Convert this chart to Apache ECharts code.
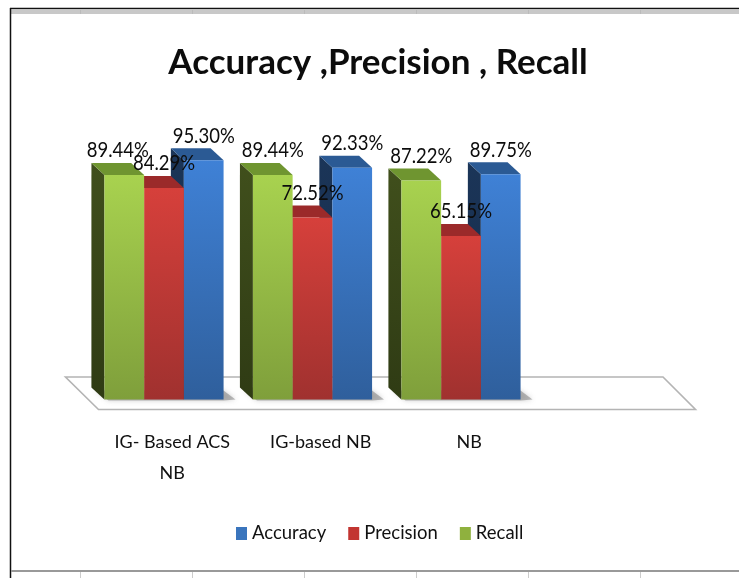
<!DOCTYPE html>
<html>
<head>
<meta charset="utf-8">
<style>html,body{margin:0;padding:0;background:#fff}#c{width:739px;height:578px;filter:blur(0.4px)}</style>
<script src="https://cdn.jsdelivr.net/npm/echarts@6/dist/echarts.min.js"></script>
</head>
<body>
<div id="c"></div>
<script>
const categories = ['IG- Based ACS\nNB', 'IG-based NB', 'NB', ''];
const accuracy = [95.30, 92.33, 89.75];
const precision = [84.29, 72.52, 65.15];
const recall = [89.44, 89.44, 87.22];
const FONT = 'Lato, "Liberation Sans", sans-serif';

function vgrad(a, b) {
  return { type: 'linear', x: 0, y: 0, x2: 0, y2: 1, colorStops: [{ offset: 0, color: a }, { offset: 1, color: b }] };
}
const DX = 13, DY = 12;
const SLOT = 0.2675, SHIFT = -0.0556;

function bar3d(slotIndex, front, top, side) {
  return function (params, api) {
    const i = api.value(0), v = api.value(1);
    const band = api.size([1, 0])[0];
    const base = api.coord([i, 0]);
    const head = api.coord([i, v]);
    const w = band * SLOT;
    const cx = base[0] + band * SHIFT + slotIndex * w;
    const x0 = cx - w / 2, x1 = cx + w / 2, y0 = base[1], y1 = head[1];
    // the first Recall label sits left of its bar in the reference
    const labelX = (slotIndex === -1 && i === 0) ? cx - DX / 2 : cx;
    return {
      type: 'group',
      children: [
        { type: 'polygon', shape: { points: [[x0 - DX, y1 - DY], [x0, y1], [x0, y0], [x0 - DX, y0 - DY]] }, style: { fill: side } },
        { type: 'polygon', shape: { points: [[x0 - DX, y1 - DY], [x1 - DX, y1 - DY], [x1, y1], [x0, y1]] }, style: { fill: top } },
        { type: 'rect', shape: { x: x0, y: y1, width: w, height: y0 - y1 }, style: { fill: front } },
        {
          type: 'text', z2: 100,
          x: labelX, y: y1 - DY - 12.5,
          scaleY: 1.15, originY: 0,
          style: { text: v.toFixed(2) + '%', fill: '#0c0c0c', font: '18.5px ' + FONT, align: 'center', verticalAlign: 'middle' }
        }
      ]
    };
  };
}

function renderFloor(params, api) {
  const c = params.coordSys;
  const yb = c.y + c.height;
  const l = c.x, r = c.x + c.width;
  const shadow = (x) => ({
    type: 'polygon',
    shape: { points: [[x - 9, yb - 9], [x + 119, yb - 9], [x + 131, yb], [x + 119, yb + 1], [x + 4, yb + 1]] },
    style: { fill: 'rgba(120,120,120,0.5)', shadowBlur: 5, shadowColor: 'rgba(120,120,120,0.7)' }
  });
  const band = c.width / categories.length;
  const kids = [{
    type: 'polygon',
    shape: { points: [[l - 32.5, yb - 22.5], [r - 29, yb - 22.5], [r + 3.5, yb + 10], [l + 0.5, yb + 10]] },
    style: { fill: '#fff', stroke: '#b4b4b4', lineWidth: 1.6, lineJoin: 'miter' }
  }];
  for (let i = 0; i < 3; i++) kids.push(shadow(l + band * (i + 0.5) + band * SHIFT - 59.5));
  return { type: 'group', children: kids };
}

const series = [
  { name: 'Accuracy', color: '#3a75bd', render: bar3d(1, vgrad('#3f81d6', '#2f5f9c'), '#2b5a94', vgrad('#1b3558', '#152a48')), data: accuracy },
  { name: 'Precision', color: '#c23531', render: bar3d(0, vgrad('#d6403b', '#a0312f'), '#9b2a2a', '#7a1f1f'), data: precision },
  { name: 'Recall', color: '#8fb13e', render: bar3d(-1, vgrad('#a8d24f', '#7f9f3b'), '#6f9530', vgrad('#404f1c', '#2f3b14')), data: recall }
];

const chart = echarts.init(document.getElementById('c'), null, { renderer: 'canvas' });
chart.setOption({
  animation: false,
  backgroundColor: '#fff',
  title: {
    text: 'Accuracy ,Precision , Recall',
    left: 373, textAlign: 'center', top: 40,
    textStyle: { fontFamily: FONT, fontWeight: 'bold', fontSize: 35, color: '#0c0c0c' }
  },
  legend: {
    top: 519, left: 231,
    itemWidth: 11, itemHeight: 13, itemGap: 22,
    icon: 'rect',
    textStyle: { fontFamily: FONT, fontSize: 18.5, color: '#111' },
    data: series.map(s => s.name)
  },
  grid: { left: 98, width: 594, top: 148.5, height: 251 },
  xAxis: {
    type: 'category', data: categories,
    axisLine: { show: false }, axisTick: { show: false },
    axisLabel: { interval: 0, fontFamily: FONT, fontSize: 18, color: '#111', lineHeight: 31, margin: 27 }
  },
  yAxis: { type: 'value', min: 0, max: 100, show: false },
  series: [
    { type: 'custom', name: '__floor', coordinateSystem: 'cartesian2d', renderItem: renderFloor, data: [[0, 0]], encode: { x: 0, y: 1 }, silent: true },
    ...series.map(s => ({
      type: 'custom', name: s.name, coordinateSystem: 'cartesian2d',
      renderItem: s.render,
      itemStyle: { color: s.color },
      encode: { x: 0, y: 1 },
      data: s.data.map((v, i) => [i, v])
    }))
  ],
  graphic: {
    elements: [
      { type: 'rect', silent: true, z: -1, shape: { x: 11, y: 10, width: 728, height: 4 }, style: { fill: '#c8c8c8' } },
      { type: 'line', silent: true, shape: { x1: 10, y1: 8.5, x2: 739, y2: 8.5 }, style: { stroke: '#111', lineWidth: 1.5 } },
      { type: 'line', silent: true, shape: { x1: 10.5, y1: 8, x2: 10.5, y2: 578 }, style: { stroke: '#111', lineWidth: 1.5 } },
      { type: 'line', silent: true, shape: { x1: 11, y1: 571, x2: 739, y2: 571 }, style: { stroke: '#999', lineWidth: 2 } },
      ...[80, 192, 304, 416, 528, 640].flatMap(x => [
        { type: 'line', silent: true, shape: { x1: x + .5, y1: 10, x2: x + .5, y2: 14 }, style: { stroke: '#bbb', lineWidth: 1 } },
        { type: 'line', silent: true, shape: { x1: x + .5, y1: 572, x2: x + .5, y2: 578 }, style: { stroke: '#ccc', lineWidth: 1 } }
      ])
    ]
  }
});
</script>
</body>
</html>
